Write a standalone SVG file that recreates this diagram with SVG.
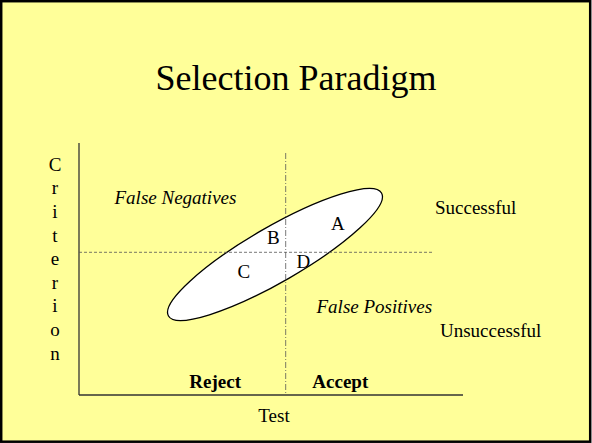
<svg xmlns="http://www.w3.org/2000/svg" width="592" height="443" viewBox="0 0 592 443" font-family="'Liberation Serif', 'Times New Roman', 'DejaVu Serif', serif">
<style>
text{font-family:'Liberation Serif','Times New Roman','DejaVu Serif',serif;fill:#000;}
.lbl{font-size:19px;}
.it{font-size:19px;font-style:italic;}
.bd{font-size:19px;font-weight:bold;}
.axis{stroke:#333;stroke-width:1.3;fill:none;}
.dash{stroke:#555;stroke-width:0.8;fill:none;}
</style>
<rect x="1.2" y="1.2" width="589" height="440.5" fill="#FFFF99" stroke="#000" stroke-width="2.5"/>
<text id="title" x="296" y="89.5" text-anchor="middle" font-size="36">Selection Paradigm</text>
<g id="ellipse">
<ellipse cx="275" cy="254.5" rx="123" ry="27.5" transform="rotate(-30 275 254.5)" fill="#fff" stroke="#000" stroke-width="1.3"/>
</g>
<g id="connectors">
<line class="axis" x1="79" y1="143" x2="79" y2="395"/>
<line class="axis" x1="79" y1="395" x2="463" y2="395"/>
<line class="dash" x1="285.7" y1="153" x2="285.7" y2="395" stroke-dasharray="6 2 1 2"/>
<line class="dash" x1="79" y1="252.3" x2="434" y2="252.3" stroke-dasharray="3 2"/>
</g>
<g id="criterion" class="lbl" text-anchor="middle">
<text x="55" y="170.7">C</text>
<text x="55" y="194.3">r</text>
<text x="55" y="217.9">i</text>
<text x="55" y="241.5">t</text>
<text x="55" y="265.1">e</text>
<text x="55" y="288.7">r</text>
<text x="55" y="312.3">i</text>
<text x="55" y="335.9">o</text>
<text x="55" y="359.5">n</text>
</g>
<g id="quadrants">
<text class="it" x="114.5" y="204">False Negatives</text>
<text class="it" x="316.5" y="313.3">False Positives</text>
<text class="lbl" x="435" y="214.3">Successful</text>
<text class="lbl" x="440" y="337.3">Unsuccessful</text>
<text class="lbl" x="331" y="230">A</text>
<text class="lbl" x="267" y="244.3">B</text>
<text class="lbl" x="237.5" y="278.3">C</text>
<text class="lbl" x="296.5" y="268.3">D</text>
</g>
<g id="xaxis">
<text class="bd" x="189.3" y="387.7">Reject</text>
<text class="bd" x="312.3" y="387.7">Accept</text>
<text class="lbl" x="258.3" y="421.7">Test</text>
</g>
</svg>
